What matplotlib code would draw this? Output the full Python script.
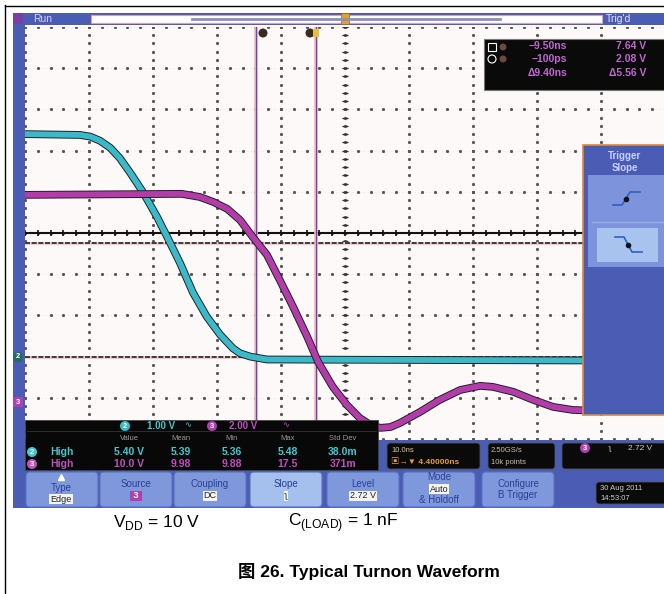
import numpy as np
import matplotlib
matplotlib.use('Agg')
from matplotlib import pyplot as plt
from matplotlib.patches import Rectangle, FancyBboxPatch, Circle

plt.rcParams['font.family'] = ['Liberation Sans', 'Noto Sans CJK SC', 'DejaVu Sans']
plt.rcParams['mathtext.fontset'] = 'custom'
plt.rcParams['mathtext.rm'] = 'Liberation Sans'

# Waveform data (time in ns from trigger, volts)
ch2_t = [-45.6, -37.0, -35.4, -33.9, -32.3, -30.8, -29.2, -27.2, -25.0, -23.4,
         -21.4, -19.35, -17.2, -15.1, -13.1, -12.0, -10.4, -7.8, 54.4]
ch2_v = [5.40, 5.38, 5.34, 5.24, 5.07, 4.82, 4.47, 4.0, 3.40, 2.91,
         2.28, 1.55, 0.97, 0.53, 0.20, 0.08, 0.0, -0.07, -0.1]
ch3_t = [-45.6, -21.1, -18.3, -16.2, -14.0, -12.0, -10.0, -7.8, -5.8, -3.7,
         -1.5, 0.2, 2.5, 4.7, 6.7, 8.3, 9.9, 11.5, 13.0, 16.1, 19.2, 22.4,
         25.5, 27.5, 30.7, 33.8, 36.9, 40.0, 44.2, 54.4]
ch3_v = [10.05, 10.1, 9.95, 9.71, 9.37, 8.83, 8.0, 7.14, 5.92, 4.61,
         3.16, 1.94, 0.73, -0.15, -0.78, -1.1, -1.26, -1.22, -1.02, -0.49, 0.10, 0.58,
         0.78, 0.73, 0.49, 0.10, -0.24, -0.39, -0.44, -0.44]

# Scope settings
ch2_scale, ch2_offset = 1.0, -3.0    # V/div, div
ch3_scale, ch3_offset = 2.0, -4.1
time_per_div = 10.0                  # ns
time_center = 4.4                    # ns
cursors = [-9.5, -0.1]               # ns

# Readouts
cursor_rows = [('−9.50ns', '7.64 V'), ('−100ps', '2.08 V'), ('Δ9.40ns', 'Δ5.56 V')]
meas_header = ['Value', 'Mean', 'Min', 'Max', 'Std Dev']
meas_ch2 = ['5.40 V', '5.39', '5.36', '5.48', '38.0m']
meas_ch3 = ['10.0 V', '9.98', '9.88', '17.5', '371m']
buttons = ['Type', 'Source', 'Coupling', 'Slope', 'Level', 'Mode', 'Configure']

# Colours
blue = '#4a5cb4'
cyan = '#3cb9c8'
magenta = '#b43caa'
btn = '#7f98dc'
btn_txt = '#2d3f96'

W, H = 664, 594
fig = plt.figure(figsize=(W / 100, H / 100), dpi=100)


def px_axes(z):
    ax = fig.add_axes([0, 0, 1, 1], zorder=z)
    ax.set_xlim(0, W)
    ax.set_ylim(H, 0)
    ax.axis('off')
    ax.patch.set_alpha(0)
    return ax


bg = px_axes(0)
bg.plot([5, 5], [5, H], color='black', lw=1)
bg.plot([5, W], [5.5, 5.5], color='black', lw=1)
bg.add_patch(Rectangle((13, 13), W - 13, 495, fc=blue, ec='none'))
bg.add_patch(Rectangle((25, 25), W - 25, 415, fc='#fdf9f9', ec='none'))

# Graticule axes (data units: ns, divisions)
gx0, gx1, gy0, gy1 = 25, 665, 27, 439
ax = fig.add_axes([gx0 / W, (H - gy1) / H, (gx1 - gx0) / W, (gy1 - gy0) / H], zorder=1)
ax.set_xlim(time_center - 5 * time_per_div, time_center + 5 * time_per_div)
ax.set_ylim(-5, 5)
ax.axis('off')
ax.patch.set_alpha(0)

vlines = time_center + time_per_div * np.arange(-5, 6)
hlines = np.arange(-5, 6)
minor_y = np.arange(-5, 5.01, 0.2)
minor_x = np.arange(time_center - 50, time_center + 50.1, 2)
for xv in vlines:
    ax.plot([xv, xv], [-5, 5], color='#f6dada', lw=0.7, ls=(0, (1, 3)))
    ax.plot(np.full_like(minor_y, xv), minor_y, ls='none', marker='s', ms=1.1, color='#555')
for yv in hlines:
    ax.plot([minor_x[0], minor_x[-1]], [yv, yv], color='#f6dada', lw=0.7, ls=(0, (1, 3)))
    ax.plot(minor_x, np.full_like(minor_x, yv), ls='none', marker='s', ms=1.1, color='#555')

# centre axes with ticks
ax.plot(np.full_like(minor_y, time_center), minor_y, ls='none', marker='_', ms=4.5, mew=1, color='#333')
ax.plot([minor_x[0], minor_x[-1]], [0, 0], color='#111', lw=1.5)
ax.plot(minor_x, np.zeros_like(minor_x), ls='none', marker='|', ms=5, mew=1.2, color='#111')

# reference lines
for yv in [-0.24, ch2_offset]:
    ax.plot([minor_x[0], minor_x[-1]], [yv, yv], color='#f4cccc', lw=2.2)
    ax.plot([minor_x[0], minor_x[-1]], [yv, yv], color='#222', lw=1.2, ls=(0, (3, 1)))

# cursors
for tc in cursors:
    ax.axvline(tc, color='#f0b8cc', lw=2.6)
    ax.axvline(tc, color='#5a4cb0', lw=0.9)

# traces
ch2_div = np.array(ch2_v) / ch2_scale + ch2_offset
ch3_div = np.array(ch3_v) / ch3_scale + ch3_offset
for tt, dd, col in [(ch2_t, ch2_div, cyan), (ch3_t, ch3_div, magenta)]:
    ax.plot(tt, dd, color='#1e2226', lw=5.6, solid_joinstyle='round', solid_capstyle='butt')
    ax.plot(tt, dd, color=col, lw=4.2, solid_joinstyle='round', solid_capstyle='butt')

# Foreground panels
fg = px_axes(3)

# top bar
fg.add_patch(Rectangle((13, 13), 10, 11, fc='#7b3fa0', ec='none'))
fg.text(33, 19, 'Run', color='#d8d0f8', fontsize=7.5, va='center')
fg.add_patch(Rectangle((91, 15), 511, 8, fc='white', ec='#e89aa8', lw=0.8))
fg.plot([192, 500], [19, 19], color='#8890c0', lw=2)
fg.add_patch(Rectangle((341, 13), 8, 11, fc='#e0a030', ec='#a06010', lw=0.5))
fg.text(606, 19, "Trig'd", color='#e8e0ff', fontsize=7.5, va='center')

# cursor handles
fg.add_patch(Circle((263, 33), 4.5, fc='#3a2a20', ec='none'))
fg.add_patch(Circle((310, 33), 4.5, fc='#3a2a20', ec='none'))
fg.add_patch(Rectangle((313, 29), 6, 8, fc='#e8c040', ec='none'))

# cursor readout
fg.add_patch(Rectangle((484, 39), 190, 51, fc='#0a0a0a', ec='#777', lw=0.8))
fg.add_patch(Rectangle((488, 43), 8, 8, fc='none', ec='white', lw=0.8))
fg.add_patch(Circle((492, 59), 4, fc='none', ec='white', lw=0.8))
fg.add_patch(Circle((503, 47), 3.5, fc='#6a4a3a', ec='none'))
fg.add_patch(Circle((503, 59), 3.5, fc='#6a4a3a', ec='none'))
for i, (a, b) in enumerate(cursor_rows):
    y = 46 + 13.5 * i
    fg.text(567, y, a, color='#c068d0', fontsize=7.5, ha='right', va='center', fontweight='bold')
    fg.text(646, y, b, color='#c068d0', fontsize=7.5, ha='right', va='center', fontweight='bold')

# trigger slope menu
fg.add_patch(Rectangle((583, 145), 90, 270, fc=blue, ec='#d88a40', lw=1.2))
fg.text(625, 156, 'Trigger', color='#c8d4ff', fontsize=7, ha='center', va='center', fontweight='bold')
fg.text(625, 168, 'Slope', color='#c8d4ff', fontsize=7, ha='center', va='center', fontweight='bold')
fg.add_patch(Rectangle((588, 175), 80, 92, fc='#7d94dc', ec='none'))
fg.plot([592, 664], [222, 222], color='#9fb0e8', lw=1)
fg.add_patch(Rectangle((597, 228), 61, 34, fc='#a8c4ee', ec='none'))
fg.plot([613, 622, 630, 640], [205, 205, 192, 192], color='#3060c0', lw=1.2)
fg.plot([626], [199], marker='o', ms=3, color='#111')
fg.plot([615, 624, 632, 642], [237, 237, 252, 252], color='#3060c0', lw=1.2)
fg.plot([628], [245], marker='o', ms=3, color='#111')

# ground markers
fg.add_patch(Circle((18, 357), 5, fc='#1f6e5e', ec='none'))
fg.text(18, 357, '2', color='white', fontsize=5.5, ha='center', va='center', fontweight='bold')
fg.add_patch(Rectangle((13, 397), 10, 10, fc='#b040b0', ec='none'))
fg.text(18, 402, '3', color='white', fontsize=5.5, ha='center', va='center', fontweight='bold')


def badge(x, y, s, col, r=5):
    fg.add_patch(Circle((x, y), r, fc=col, ec='none'))
    fg.text(x, y, s, color='white', fontsize=5.5, ha='center', va='center', fontweight='bold')


# measurement panel
fg.add_patch(Rectangle((25, 420), 353, 50, fc='#080808', ec='#444', lw=0.6))
fg.plot([27, 376], [431, 431], color='#333', lw=0.6)
badge(125, 426, '2', cyan)
fg.text(147, 426, '1.00 V', color='#45c8c8', fontsize=7, va='center', fontweight='bold')
fg.text(184, 426, '∿', color='#45c8c8', fontsize=6, va='center')
badge(212, 426, '3', '#b040b0')
fg.text(229, 426, '2.00 V', color='#c050c0', fontsize=7, va='center', fontweight='bold')
fg.text(282, 426, '∿', color='#c050c0', fontsize=6, va='center')
cols = [129, 181, 232, 288, 343]
for cx, s in zip(cols, meas_header):
    fg.text(cx, 438, s, color='#9a9a9a', fontsize=5.5, ha='center', va='center')
for y, row, col, lab in [(452, meas_ch2, '#40c8d0', '2'), (464, meas_ch3, '#c050c0', '3')]:
    badge(32, y, lab, col, r=5)
    fg.text(50, y, 'High', color=col, fontsize=7.5, va='center', fontweight='bold')
    for cx, s in zip(cols, row):
        fg.text(cx, y, s, color=col, fontsize=7.5, ha='center', va='center', fontweight='bold')

# info boxes
for (x0, y0, w, h) in [(387, 443, 93, 26), (488, 443, 67, 26), (562, 443, 110, 26), (596, 482, 75, 22)]:
    fg.add_patch(FancyBboxPatch((x0, y0), w, h, boxstyle='round,pad=0,rounding_size=3',
                                fc='#0a0a0a', ec='#555', lw=0.6))
fg.text(391, 450, '10.0ns', color='#d8c89a', fontsize=5.5, va='center')
fg.text(391, 462, '▣→▼ 4.40000ns', color='#e8a030', fontsize=6, va='center', fontweight='bold')
fg.text(491, 450, '2.50GS/s', color='#c8c0a8', fontsize=5.5, va='center')
fg.text(491, 462, '10k points', color='#c8c0a8', fontsize=5.5, va='center')
badge(585, 448, '3', '#b040b0', r=5)
fg.text(608, 448, 'ʅ', color='#d0d0d0', fontsize=6, va='center')
fg.text(628, 448, '2.72 V', color='#d0d0d0', fontsize=6, va='center')
fg.text(600, 488, '30 Aug 2011', color='#d0d0d0', fontsize=5.5, va='center')
fg.text(600, 499, '14:53:07', color='#d0d0d0', fontsize=5.5, va='center')

# soft buttons
bx = [26, 100, 174, 250, 327, 403, 482]
for i, (x0, name) in enumerate(zip(bx, buttons)):
    fc = '#a6c0ee' if name == 'Slope' else btn
    fg.add_patch(FancyBboxPatch((x0, 472), 72, 35, boxstyle='round,pad=0,rounding_size=4',
                                fc=fc, ec='#5a70c0', lw=0.8))
white_box = dict(boxstyle='square,pad=0.1', fc='#f4f4f4', ec='none')
fg.plot([61], [477], marker='^', ms=5, color='white')
fg.text(61, 488, 'Type', color=btn_txt, fontsize=7, ha='center', va='center')
fg.text(61, 499, 'Edge', color='#222', fontsize=6.5, ha='center', va='center', bbox=white_box)
fg.text(136, 484, 'Source', color=btn_txt, fontsize=7, ha='center', va='center')
fg.text(136, 496, ' 3 ', color='white', fontsize=6.5, ha='center', va='center', fontweight='bold',
        bbox=dict(boxstyle='square,pad=0.1', fc='#b040b0', ec='none'))
fg.text(210, 484, 'Coupling', color=btn_txt, fontsize=7, ha='center', va='center')
fg.text(210, 496, 'DC', color='#222', fontsize=6.5, ha='center', va='center', bbox=white_box)
fg.text(286, 484, 'Slope', color=btn_txt, fontsize=7, ha='center', va='center')
fg.text(286, 496, 'ʅ', color='#222', fontsize=6.5, ha='center', va='center', bbox=white_box)
fg.text(363, 484, 'Level', color=btn_txt, fontsize=7, ha='center', va='center')
fg.text(363, 496, '2.72 V', color='#222', fontsize=6.5, ha='center', va='center', bbox=white_box)
fg.text(439, 477, 'Mode', color=btn_txt, fontsize=7, ha='center', va='center')
fg.text(439, 489, 'Auto', color='#222', fontsize=6.5, ha='center', va='center', bbox=white_box)
fg.text(439, 500, '& Holdoff', color=btn_txt, fontsize=7, ha='center', va='center')
fg.text(518, 484, 'Configure', color=btn_txt, fontsize=7, ha='center', va='center')
fg.text(518, 495, 'B Trigger', color=btn_txt, fontsize=7, ha='center', va='center')

# caption text
fg.text(113, 523, r'V$_{\mathregular{DD}}$ = 10 V', fontsize=12.5, va='center')
fg.text(288, 523, r'C$_{\mathregular{(LOAD)}}$ = 1 nF', fontsize=12.5, va='center')
fg.text(369, 571, '图 26. Typical Turnon Waveform', fontsize=12.5, fontweight='bold',
        ha='center', va='center')

fig.savefig('out.png', dpi=100)
